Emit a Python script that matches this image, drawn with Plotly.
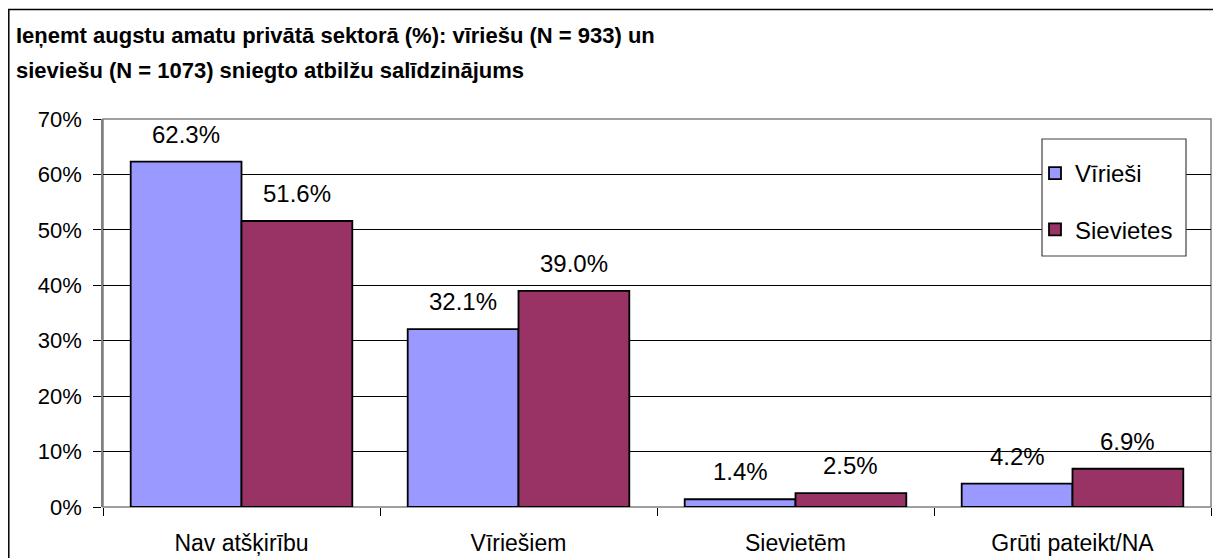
import plotly.graph_objects as go

categories = ["Nav atšķirību", "Vīriešiem", "Sievietēm", "Grūti pateikt/NA"]
men = [62.3, 32.1, 1.4, 4.2]
women = [51.6, 39.0, 2.5, 6.9]
series_names = ["Vīrieši", "Sievietes"]
series_colors = ["#9999FF", "#993366"]
y_ticks = [0, 10, 20, 30, 40, 50, 60, 70]
y_tick_labels = [f"{v}%" for v in y_ticks]
title_lines = ["Ieņemt augstu amatu privātā sektorā (%): vīriešu (N = 933) un",
               "sieviešu (N = 1073) sniegto atbilžu salīdzinājums"]

FONT = "Arial, Liberation Sans, sans-serif"
OFF = 8  # page body margin
W, H = 1221 - OFF, 558 - OFF
L = 103 - OFF
T = 119 - OFF
R = W - (1211 - OFF)
B = H - (507 - OFF)
pw, ph = W - L - R, H - T - B


def px_x(p):
    return (p - OFF - L) / pw


def px_y(p):
    return (H - B - (p - OFF)) / ph


fig = go.Figure()
for name, vals, col in zip(series_names, (men, women), series_colors):
    fig.add_bar(x=categories, y=vals, name=name, legendgroup=name,
                marker=dict(color=col, line=dict(color="black", width=1.8)))

annotations = []
slot = pw / len(categories) * 0.8 / 2
for vals, shift in ((men, -slot / 2), (women, slot / 2)):
    for c, v in zip(categories, vals):
        annotations.append(dict(x=c, y=v, text=f"{v:.1f}%", showarrow=False,
                                xshift=shift, yshift=12, yanchor="bottom",
                                font=dict(family=FONT, size=24, color="black")))
for line, cy in zip(title_lines, (35, 70)):
    annotations.append(dict(x=px_x(14), y=px_y(cy), xref="paper", yref="paper",
                            xanchor="left", yanchor="middle", showarrow=False,
                            text=f"<b>{line}</b>",
                            font=dict(family=FONT, size=22, color="black")))

shapes = [
    dict(type="rect", xref="paper", yref="paper", x0=px_x(8.8), x1=px_x(1300),
         y0=px_y(9.5), y1=px_y(700), line=dict(color="black", width=1.5),
         fillcolor="rgba(0,0,0,0)", layer="above"),
    dict(type="rect", xref="paper", yref="paper", x0=0, x1=1, y0=0, y1=1,
         line=dict(color="#808080", width=1.5), fillcolor="rgba(0,0,0,0)",
         layer="below"),
    dict(type="rect", xref="paper", yref="paper", x0=px_x(1042), x1=px_x(1186),
         y0=px_y(256), y1=px_y(139), line=dict(color="#404040", width=1.2),
         fillcolor="white", layer="above"),
]

fig.update_layout(
    width=W, height=H,
    margin=dict(l=L, r=R, t=T, b=B, autoexpand=False),
    paper_bgcolor="white", plot_bgcolor="white",
    barmode="group", bargap=0.2, bargroupgap=0,
    font=dict(family=FONT, size=20, color="black"),
    showlegend=True,
    legend=dict(x=px_x(1035), y=px_y(201.5), xanchor="left", yanchor="middle",
                bgcolor="rgba(0,0,0,0)", borderwidth=0,
                font=dict(family=FONT, size=24, color="black"),
                itemwidth=30, tracegroupgap=22, traceorder="grouped"),
    annotations=annotations,
    shapes=shapes,
)
fig.update_xaxes(showgrid=False, showline=False, ticks="outside", tickson="boundaries",
                 ticklen=8, tickcolor="black", ticklabelstandoff=20,
                 tickfont=dict(family=FONT, size=23))
fig.update_yaxes(range=[0, 70], tickvals=y_ticks, ticktext=y_tick_labels,
                 showgrid=True, gridcolor="black", gridwidth=1,
                 showline=True, linecolor="#808080", linewidth=1.5,
                 ticks="outside", ticklen=8, tickcolor="black",
                 ticklabelstandoff=7, zeroline=False,
                 tickfont=dict(family=FONT, size=22))

fig.write_html("out.html")
